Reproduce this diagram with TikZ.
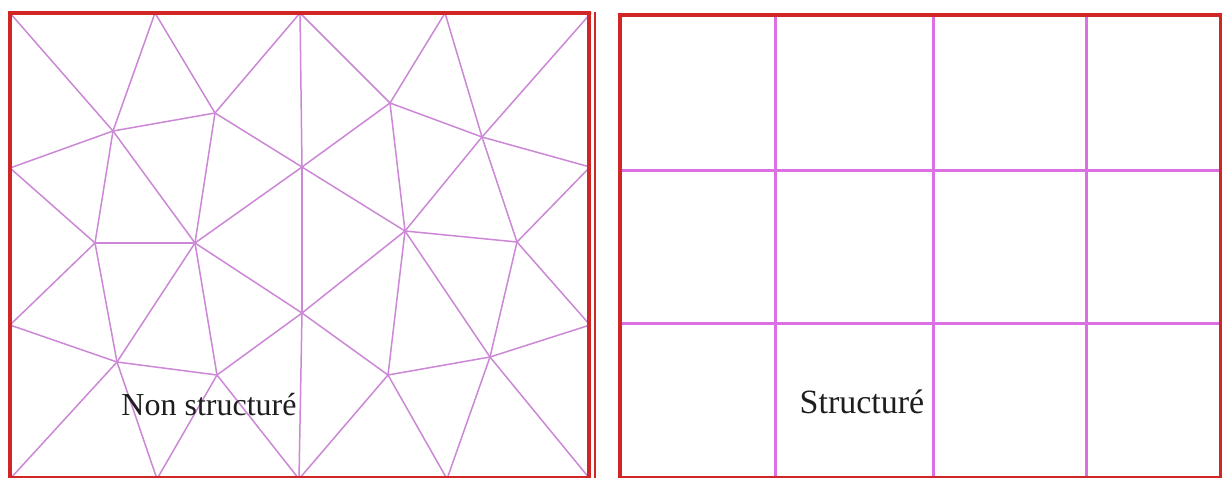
\documentclass[tikz,border=0pt]{standalone}
\usepackage{fontspec}
\setmainfont{Liberation Serif}
\definecolor{framered}{RGB}{208,38,38}
\definecolor{meshline}{RGB}{204,136,214}
\definecolor{gridline}{RGB}{218,112,226}
\definecolor{labeltext}{RGB}{30,30,30}
\tikzset{
  frame/.style={draw=framered, line width=3.4pt},
  mesh/.style={draw=meshline, line width=1.5pt, line cap=round},
  gridl/.style={draw=gridline, line width=3pt},
  lbl/.style={anchor=base, text=labeltext, inner sep=0pt, font=\fontsize{32}{32}\selectfont},
}
\begin{document}
\begin{tikzpicture}[x=1pt, y=-1pt]
\useasboundingbox (0,0) rectangle (1222,477);
\clip (0,0) rectangle (1222,477);
\fill[white] (0,0) rectangle (1222,477);
% ---------- left panel vertices ----------
\coordinate (TL) at (10,13);
\coordinate (T1) at (155,13);
\coordinate (T2) at (300,13);
\coordinate (T3) at (445,13);
\coordinate (TR) at (591,13);
\coordinate (Lf1) at (10,168);
\coordinate (A) at (113,131);
\coordinate (B) at (215,113);
\coordinate (C) at (302,167);
\coordinate (D) at (390,103);
\coordinate (E) at (482,137);
\coordinate (R1) at (590,167);
\coordinate (H) at (95,243);
\coordinate (I) at (195,243);
\coordinate (F) at (405,231);
\coordinate (G) at (517,242);
\coordinate (Lf2) at (10,325);
\coordinate (L) at (302,313);
\coordinate (R2) at (590,325);
\coordinate (J) at (117,362);
\coordinate (K) at (217,375);
\coordinate (P) at (388,375);
\coordinate (O) at (490,357);
\coordinate (BL) at (10,479);
\coordinate (B1) at (157,479);
\coordinate (B2) at (299,479);
\coordinate (B3) at (447,479);
\coordinate (BR) at (590,479);
% ---------- mesh edges ----------
\foreach \u/\v in {TL/A, T1/A, T1/B, T2/B, A/B, A/Lf1, A/H, A/I, B/I, B/C,
  T2/C, T2/D, T3/D, T3/E, TR/E, D/E, D/C, D/F, E/F, E/R1, E/G, C/F, C/I, C/L,
  F/G, R1/G, Lf1/H, H/I, H/Lf2, H/J, I/J, I/K, I/L, Lf2/J, J/K, K/L, L/F, L/P,
  F/P, F/O, G/O, G/R2, P/O, O/R2, J/BL, J/B1, K/B1, K/B2, L/B2, P/B2, P/B3,
  O/B3, O/BR}
  \draw[mesh] (\u) -- (\v);
% ---------- left frame ----------
\coordinate (LFa) at (10,13);
\coordinate (LFb) at (589,478);
\coordinate (LFc) at (595,12);
\coordinate (LFd) at (595,478);
\draw[frame] (LFa) rectangle (LFb);
\draw[frame, line width=2.4pt] (LFc) -- (LFd);
\node[lbl] (ns) at (209,415) {Non structuré};
% ---------- right panel ----------
\coordinate (RFa) at (620,15);
\coordinate (RFb) at (1221,478);
\foreach \x in {775,933,1086}
  \draw[gridl] (\x,15) -- (\x,478);
\foreach \y in {170,323}
  \draw[gridl] (620,\y) -- (1221,\y);
\draw[frame] (RFa) rectangle (RFb);
\node[lbl, font=\fontsize{34}{34}\selectfont] (st) at (862,413) {Structuré};
\end{tikzpicture}
\end{document}
